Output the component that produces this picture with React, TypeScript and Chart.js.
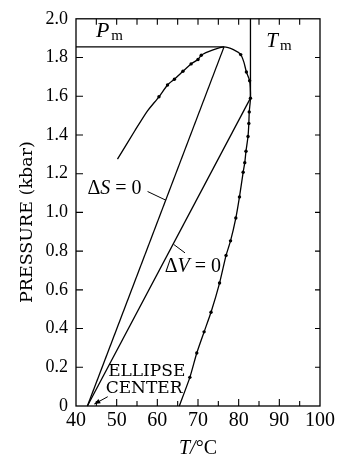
import { useEffect, useRef } from "react";
import { Chart, registerables } from "chart.js";

Chart.register(...registerables);

// ---- data (T in °C, P in kbar) ----
const curveT = [50.2, 54.5, 57.5, 60.4, 62.5, 64.2, 66.3, 68.3, 70.0, 70.8, 73.7, 76.4, 78.7, 80.5, 81.3, 81.9, 82.7, 82.9, 82.6, 82.5, 82.3, 81.8, 81.5, 81.1, 80.2, 79.3, 78.0, 76.9, 75.3, 73.2, 71.5, 69.7, 68.0, 65.4];
const curveP = [1.275, 1.423, 1.522, 1.597, 1.658, 1.688, 1.729, 1.767, 1.790, 1.812, 1.839, 1.855, 1.841, 1.815, 1.775, 1.725, 1.68, 1.59, 1.519, 1.459, 1.392, 1.316, 1.257, 1.207, 1.08, 0.971, 0.853, 0.778, 0.635, 0.484, 0.383, 0.274, 0.148, 0.0];

const dotT = [60.4, 62.5, 64.2, 66.3, 68.3, 70.0, 70.8, 80.5, 81.9, 82.7, 82.9, 82.6, 82.5, 82.3, 81.8, 81.5, 81.1, 80.2, 79.3, 78.0, 76.9, 75.3, 73.2, 71.5, 69.7, 68.0];
const dotP = [1.597, 1.658, 1.688, 1.729, 1.767, 1.790, 1.812, 1.815, 1.725, 1.68, 1.59, 1.519, 1.459, 1.392, 1.316, 1.257, 1.207, 1.08, 0.971, 0.853, 0.778, 0.635, 0.484, 0.383, 0.274, 0.148];

const centerTP = [42.8, 0.0];   // ellipse centre
const maxPTP = [76.4, 1.855];   // P_m point
const maxTTP = [82.9, 1.59];    // T_m point
const Pm = 1.855;
const Tm = 82.9;

const xTicks = [40, 50, 60, 70, 80, 90, 100];
const xMinor = [45, 50, 55, 60, 65, 70, 75, 80, 85, 90, 95];
const yTicks = [0, 0.2, 0.4, 0.6, 0.8, 1.0, 1.2, 1.4, 1.6, 1.8, 2.0];

// label anchors (data units)
const posPm = [44.9, 1.907];
const posTm = [86.8, 1.856];
const posDS = [42.8, 1.096];
const leaderDS = [[57.6, 1.108], [62.1, 1.063]];
const posDV = [61.8, 0.692];
const leaderDV = [[64.0, 0.835], [66.8, 0.791]];
const posEllipse = [47.9, 0.156];
const posCenter = [47.3, 0.065];
const arrowEC = [[47.8, 0.048], [44.5, 0.01]];

const SERIF = '"Liberation Serif", "Times New Roman", serif';
const WIDE = '"DejaVu Serif", serif';

const pts = (ts: number[], ps: number[]) => ts.map((t, i) => ({ x: t, y: ps[i] }));
const seg = (a: number[], b: number[]) => [{ x: a[0], y: a[1] }, { x: b[0], y: b[1] }];

type Run = [string, string, number?, number?];
function runs(ctx: CanvasRenderingContext2D, x: number, y: number, parts: Run[]) {
  let cx = x;
  for (const [font, s, dy, dx] of parts) {
    ctx.font = font;
    cx += dx || 0;
    ctx.fillText(s, cx, y + (dy || 0));
    cx += ctx.measureText(s).width;
  }
  return cx - x;
}
function runsWidth(ctx: CanvasRenderingContext2D, parts: Run[]) {
  let w = 0;
  for (const [font, s, , dx] of parts) { ctx.font = font; w += ctx.measureText(s).width + (dx || 0); }
  return w;
}

const annot = {
  id: "annot",
  afterDatasetsDraw(chart: any) {
    const { ctx, chartArea: a, scales } = chart;
    const x = scales.x, y = scales.y;
    const px = (t: number) => x.getPixelForValue(t);
    const py = (p: number) => y.getPixelForValue(p);
    ctx.save();
    ctx.strokeStyle = "#000";
    ctx.fillStyle = "#000";
    ctx.lineWidth = 1.3;
    ctx.strokeRect(a.left, a.top, a.right - a.left, a.bottom - a.top);
    ctx.lineWidth = 1.1;
    ctx.beginPath();
    for (const t of xMinor) {
      const X = px(t);
      const lb = t % 10 === 0 ? 7 : 5;
      ctx.moveTo(X, a.bottom); ctx.lineTo(X, a.bottom - lb);
      ctx.moveTo(X, a.top); ctx.lineTo(X, a.top + 6);
    }
    for (const p of yTicks) {
      if (p <= 0 || p >= 2) continue;
      const Y = py(p);
      ctx.moveTo(a.left, Y); ctx.lineTo(a.left + 7, Y);
      ctx.moveTo(a.right, Y); ctx.lineTo(a.right - 5, Y);
    }
    ctx.stroke();

    // leaders
    ctx.lineWidth = 1;
    ctx.beginPath();
    for (const L of [leaderDS, leaderDV, arrowEC]) {
      ctx.moveTo(px(L[0][0]), py(L[0][1]));
      ctx.lineTo(px(L[1][0]), py(L[1][1]));
    }
    ctx.stroke();
    // arrow head
    {
      const x0 = px(arrowEC[0][0]), y0 = py(arrowEC[0][1]);
      const x1 = px(arrowEC[1][0]), y1 = py(arrowEC[1][1]);
      const ang = Math.atan2(y1 - y0, x1 - x0);
      ctx.beginPath();
      ctx.moveTo(x1, y1);
      ctx.lineTo(x1 - 6 * Math.cos(ang) + 2.5 * Math.sin(ang), y1 - 6 * Math.sin(ang) - 2.5 * Math.cos(ang));
      ctx.lineTo(x1 - 6 * Math.cos(ang) - 2.5 * Math.sin(ang), y1 - 6 * Math.sin(ang) + 2.5 * Math.cos(ang));
      ctx.closePath();
      ctx.fill();
    }

    ctx.textBaseline = "alphabetic";
    ctx.textAlign = "left";
    runs(ctx, px(posPm[0]), py(posPm[1]), [[`italic 22px ${SERIF}`, "P"], [`15px ${SERIF}`, "m", 3, 2]]);
    runs(ctx, px(posTm[0]), py(posTm[1]), [[`italic 21px ${SERIF}`, "T"], [`15px ${SERIF}`, "m", 3, 2]]);
    runs(ctx, px(posDS[0]), py(posDS[1]), [[`20px ${SERIF}`, "Δ"], [`italic 20px ${SERIF}`, "S"], [`20px ${SERIF}`, " = 0"]]);
    runs(ctx, px(posDV[0]), py(posDV[1]), [[`20px ${SERIF}`, "Δ"], [`italic 20px ${SERIF}`, "V"], [`20px ${SERIF}`, " = 0"]]);
    ctx.font = `17px ${WIDE}`;
    ctx.fillText("ELLIPSE", px(posEllipse[0]), py(posEllipse[1]));
    ctx.fillText("CENTER", px(posCenter[0]), py(posCenter[1]));

    // x title
    const xt: Run[] = [[`italic 20px ${SERIF}`, "T"], [`italic 20px ${SERIF}`, "/"], [`20px ${SERIF}`, "°C"]];
    const w = runsWidth(ctx, xt);
    runs(ctx, (a.left + a.right) / 2 - w / 2, a.bottom + 48, xt);

    // y title
    ctx.save();
    ctx.translate(a.left - 48.5, py(0.95));
    ctx.rotate(-Math.PI / 2);
    ctx.textAlign = "center";
    ctx.textBaseline = "middle";
    ctx.font = `17.5px ${WIDE}`;
    ctx.fillText("PRESSURE (kbar)", 0, 0);
    ctx.restore();

    ctx.restore();
  },
};

export default function App() {
  const ref = useRef<HTMLCanvasElement>(null);
  useEffect(() => {
    if (!ref.current) return;
    const line = { showLine: true, pointRadius: 0, borderColor: "#000", borderWidth: 1.3, fill: false, clip: false as any };
    const chart = new Chart(ref.current, {
      type: "scatter",
      data: {
        datasets: [
          { ...line, data: pts(curveT, curveP), tension: 0.2 } as any,
          { data: pts(dotT, dotP), showLine: false, pointRadius: 1.7, backgroundColor: "#000", borderColor: "#000", borderWidth: 0 } as any,
          { ...line, data: seg(centerTP, maxPTP), tension: 0 } as any,
          { ...line, data: seg(centerTP, maxTTP), tension: 0 } as any,
          { ...line, data: seg([40, Pm], maxPTP), tension: 0 } as any,
          { ...line, data: seg([Tm, 2.0], maxTTP), tension: 0 } as any,
        ],
      },
      options: {
        animation: false,
        responsive: false,
        devicePixelRatio: 1,
        layout: { padding: 0 },
        plugins: { legend: { display: false }, tooltip: { enabled: false } },
        scales: {
          x: {
            type: "linear", position: "bottom", min: 40, max: 100,
            afterBuildTicks: (s: any) => { s.ticks = xTicks.map((v) => ({ value: v })); },
            afterFit: (s: any) => { s.height = 53; },
            ticks: { color: "#000", font: { family: SERIF, size: 20 }, padding: 3, maxRotation: 0, autoSkip: false, callback: (v: any) => String(v) },
            grid: { display: false, drawTicks: false },
            border: { display: false },
          },
          x2: {
            type: "linear", position: "top", min: 40, max: 100,
            afterFit: (s: any) => { s.height = 11; },
            ticks: { display: false },
            grid: { display: false, drawTicks: false },
            border: { display: false },
          },
          y: {
            type: "linear", position: "left", min: 0, max: 2,
            afterBuildTicks: (s: any) => { s.ticks = yTicks.map((v) => ({ value: v })); },
            afterFit: (s: any) => { s.width = 76; },
            ticks: { color: "#000", font: { family: SERIF, size: 18 }, padding: 8, callback: (v: any) => (v === 0 ? "0" : Number(v).toFixed(1)) },
            grid: { display: false, drawTicks: false },
            border: { display: false },
          },
          y2: {
            type: "linear", position: "right", min: 0, max: 2,
            afterFit: (s: any) => { s.width = 23; },
            ticks: { display: false },
            grid: { display: false, drawTicks: false },
            border: { display: false },
          },
        },
      } as any,
      plugins: [annot],
    });
    return () => chart.destroy();
  }, []);
  return (
    <div style={{ position: "fixed", left: 0, top: 0, width: 343, height: 459, background: "#fff" }}>
      <canvas ref={ref} width={343} height={459} style={{ display: "block" }} />
    </div>
  );
}
